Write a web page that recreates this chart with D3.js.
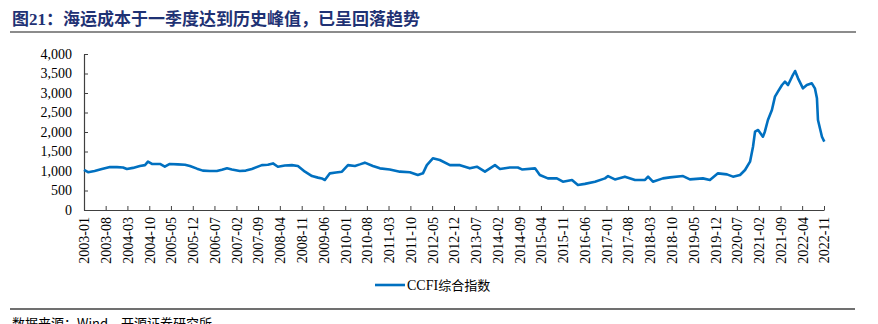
<!DOCTYPE html>
<html><head><meta charset="utf-8">
<script src="https://cdn.jsdelivr.net/npm/d3@7/dist/d3.min.js"></script>
<style>
html,body{margin:0;padding:0;background:#fff;}
svg{display:block;}
</style></head>
<body>
<svg id="c" width="878" height="324"></svg>
<script>
const titleText = "图21：海运成本于一季度达到历史峰值，已呈回落趋势";
const sourceText = "数据来源：Wind，开源证券研究所";
const seriesName = "CCFI综合指数";
const yTicks = [0, 500, 1000, 1500, 2000, 2500, 3000, 3500, 4000];
const startDate = "2003-01-01";
const endDate = "2022-11-01";
const tickStepMonths = 7;

const dates = [
"2003-01-01","2003-02-10","2003-04-15","2003-06-25","2003-09-12","2003-11-20","2004-01-18","2004-02-25","2004-04-24","2004-07-01",
"2004-08-20","2004-09-18","2004-10-27","2005-01-14","2005-03-02","2005-04-20","2005-07-08","2005-09-15","2005-11-03","2006-01-11",
"2006-03-09","2006-05-16","2006-07-24","2006-09-12","2006-11-01","2006-12-19","2007-03-06","2007-05-04","2007-07-02","2007-10-08",
"2007-12-06","2008-01-25","2008-03-13","2008-05-20","2008-07-28","2008-09-25","2008-12-03","2009-02-10","2009-04-09","2009-05-17",
"2009-06-16","2009-08-04","2009-10-02","2009-11-30","2010-01-28","2010-04-06","2010-05-24","2010-07-12","2010-09-29","2010-12-07",
"2011-03-13","2011-06-20","2011-09-26","2011-12-13","2012-02-01","2012-03-10","2012-05-08","2012-07-15","2012-10-22","2013-01-29",
"2013-05-05","2013-07-13","2013-09-30","2014-01-06","2014-02-24","2014-06-01","2014-08-18","2014-09-27","2015-02-02","2015-03-21",
"2015-06-08","2015-09-04","2015-11-02","2016-01-30","2016-03-28","2016-06-04","2016-09-11","2016-12-18","2017-01-17","2017-03-25",
"2017-07-01","2017-10-08","2018-01-14","2018-02-13","2018-04-01","2018-07-08","2018-09-15","2019-01-21","2019-03-29","2019-08-04",
"2019-10-11","2019-12-29","2020-03-26","2020-05-24","2020-08-01","2020-09-19","2020-11-07","2020-12-06","2020-12-26","2021-01-25",
"2021-03-13","2021-04-01","2021-05-01","2021-06-09","2021-07-09","2021-08-07","2021-09-16","2021-10-15","2021-11-14","2021-12-23",
"2022-01-22","2022-02-20","2022-04-09","2022-05-17","2022-07-05","2022-08-04","2022-08-24","2022-09-03","2022-10-12","2022-11-04"
];
const ccfi = [
1030,970,1000,1050,1100,1100,1090,1050,1080,1130,
1150,1240,1180,1180,1110,1180,1170,1160,1130,1060,
1010,1000,1000,1030,1070,1040,1000,1010,1050,1150,
1160,1195,1110,1140,1150,1130,983,870,830,810,
770,940,960,983,1150,1130,1170,1214,1130,1068,
1040,983,966,897,940,1150,1325,1282,1150,1150,
1068,1110,983,1150,1050,1090,1090,1040,1068,897,
811,811,726,770,640,670,726,811,870,785,
855,770,770,855,726,811,837,870,785,811,
770,940,914,855,897,1026,1240,1623,2008,2051,
1880,2008,2308,2564,2906,3034,3205,3290,3205,3418,
3564,3376,3120,3205,3248,3120,2863,2308,1880,1752
];

const parse = d3.timeParse("%Y-%m-%d");
const data = dates.map((d, i) => ({date: parse(d), v: ccfi[i]}));

const svg = d3.select("#c");
const blue = "#0070C0";
const axisColor = "#404040";
const serif = "'Liberation Serif','Times New Roman',serif";
const cjk = "'Noto Sans CJK SC','Noto Sans CJK JP',sans-serif";

// Title
svg.append("text").attr("x", 12).attr("y", 25)
  .attr("font-family", "'Liberation Serif','Noto Sans CJK SC',serif")
  .attr("font-weight", "bold").attr("font-size", 17)
  .attr("fill", "#1F3274")
  .text(titleText);
svg.append("line").attr("x1", 10).attr("x2", 856).attr("y1", 32).attr("y2", 32)
  .attr("stroke", "#8c8c8c").attr("stroke-width", 2);

const x = d3.scaleTime().domain([parse(startDate), parse(endDate)]).range([84, 824]);
const y = d3.scaleLinear().domain([0, 4000]).range([210, 54]);

// X axis
const xTickVals = d3.timeMonth.every(1).range(parse(startDate), d3.timeMonth.offset(parse(endDate), 1))
  .filter((d, i) => i % tickStepMonths === 0);
const xAxis = d3.axisBottom(x).tickValues(xTickVals).tickFormat(d3.timeFormat("%Y-%m"))
  .tickSizeInner(-4).tickSizeOuter(0).tickPadding(0);
const gx = svg.append("g").attr("transform", "translate(0,210)").call(xAxis);
gx.select(".domain").attr("stroke", axisColor).attr("stroke-width", 1.2);
gx.selectAll(".tick line").attr("stroke", axisColor);
gx.selectAll(".tick text")
  .attr("font-family", serif).attr("font-size", 14).attr("fill", "#000")
  .attr("transform", "rotate(-90)")
  .attr("text-anchor", "end").attr("dy", "0.35em").attr("x", -7).attr("y", 0);

// Y axis
const yAxis = d3.axisLeft(y).tickValues(yTicks).tickFormat(d3.format(","))
  .tickSizeInner(-4).tickSizeOuter(0).tickPadding(12);
const gy = svg.append("g").attr("transform", "translate(84,0)").call(yAxis);
gy.select(".domain").attr("stroke", axisColor).attr("stroke-width", 1.2);
gy.selectAll(".tick line").attr("stroke", axisColor);
gy.selectAll(".tick text").attr("font-family", serif).attr("font-size", 14).attr("fill", "#000");

// Line
const line = d3.line().x(d => x(d.date)).y(d => y(d.v)).curve(d3.curveLinear);
svg.append("path").datum(data).attr("d", line)
  .attr("fill", "none").attr("stroke", blue).attr("stroke-width", 2.6)
  .attr("stroke-linejoin", "round");

// Legend
svg.append("line").attr("x1", 375).attr("x2", 405).attr("y1", 285).attr("y2", 285)
  .attr("stroke", blue).attr("stroke-width", 2.6);
const lg = svg.append("text").attr("x", 407).attr("y", 290).attr("font-size", 14).attr("fill", "#000");
lg.append("tspan").attr("font-family", serif).text(seriesName.slice(0, 4));
lg.append("tspan").attr("font-family", cjk).attr("font-size", 13).text(seriesName.slice(4));

// Footer
svg.append("line").attr("x1", 10).attr("x2", 855).attr("y1", 309).attr("y2", 309)
  .attr("stroke", "#404040").attr("stroke-width", 1.5);
svg.append("text").attr("x", 12).attr("y", 328)
  .attr("font-family", cjk).attr("font-size", 13).attr("fill", "#000")
  .text(sourceText);
</script>
</body></html>
